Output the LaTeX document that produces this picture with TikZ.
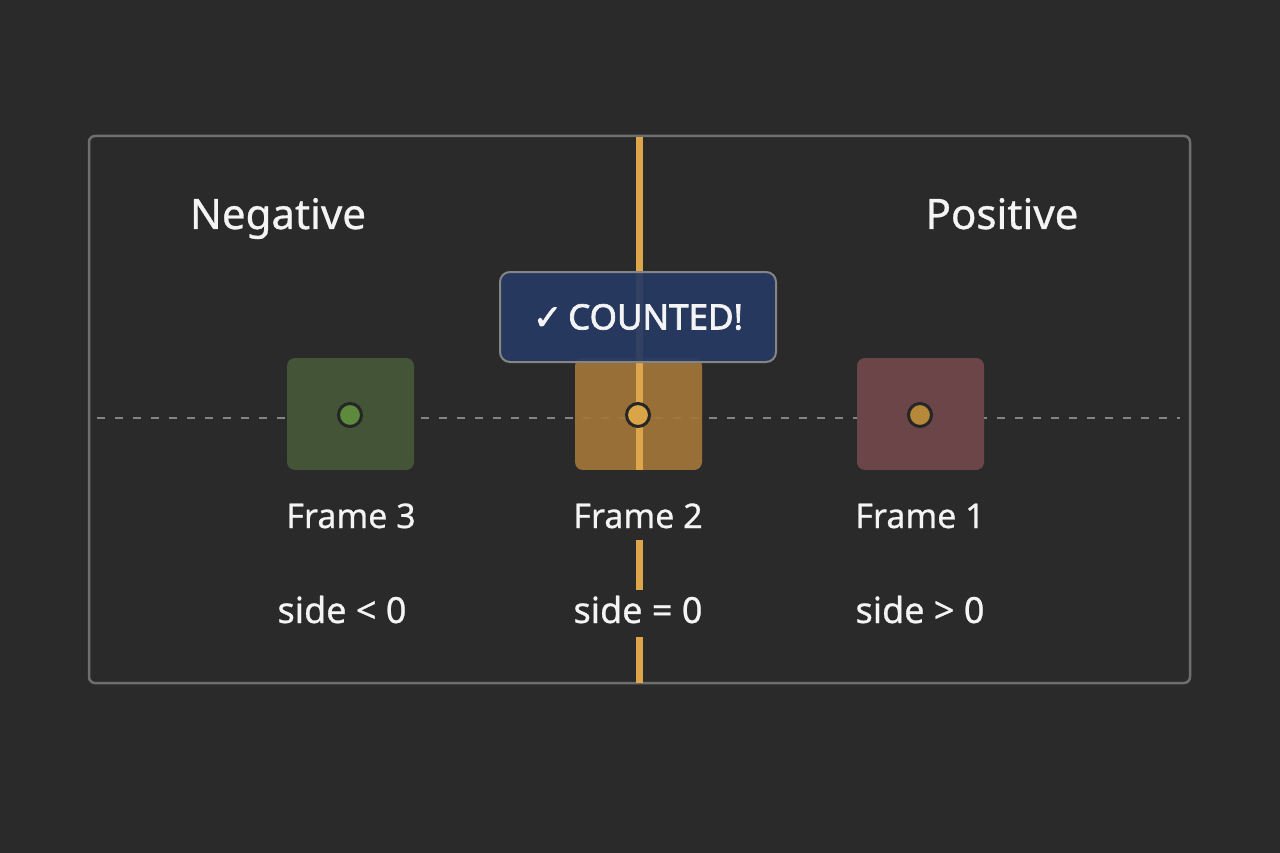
\documentclass[tikz,border=0pt]{standalone}
\usepackage{fontspec}
\setmainfont[FakeBold=0.7]{Noto Sans}
\newfontfamily\badgefont[FakeBold=2]{Noto Sans}
\newfontfamily\symfont[FakeBold=2]{DejaVu Sans}
\definecolor{bgc}{HTML}{2A2A2A}
\definecolor{framec}{HTML}{6E6E6E}
\definecolor{dashc}{HTML}{858585}
\definecolor{linec}{HTML}{DDA64A}
\definecolor{greenbox}{HTML}{435536}
\definecolor{greendot}{HTML}{5E8A3E}
\definecolor{yelbox}{HTML}{A47738}
\definecolor{yeldot}{HTML}{D9A548}
\definecolor{redbox}{HTML}{6B4548}
\definecolor{reddot}{HTML}{B5883A}
\definecolor{bluebox}{HTML}{263A63}
\definecolor{txtc}{HTML}{F4F4F4}
\tikzset{
  framebox/.style={draw=none, minimum width=127pt, minimum height=112pt, rounded corners=8pt, inner sep=0pt},
  dot/.style={circle, draw=black!85, line width=3pt, minimum size=23pt, inner sep=0pt},
  lbl/.style={text=txtc, inner sep=0pt, anchor=base},
  head/.style={text=txtc, font=\fontsize{42}{50}\selectfont, inner sep=0pt, anchor=base},
  framelbl/.style={lbl, font=\fontsize{34}{40}\selectfont, fill=bgc, text height=58pt, text depth=12pt, inner xsep=4pt},
  sidelbl/.style={lbl, font=\fontsize{36}{42}\selectfont, fill=bgc, text height=33pt, text depth=14pt, inner xsep=4pt},
}
\begin{document}
\begin{tikzpicture}[x=1pt,y=-1pt]
\fill[bgc] (0,0) rectangle (1280,853);
\useasboundingbox (0,0) rectangle (1280,853);
% outer frame
\draw[framec, line width=2.5pt, rounded corners=6pt] (89,136) rectangle (1190,683);
% dashed axis
\coordinate (dl) at (97,418);
\coordinate (dr) at (1180,418);
\draw[dashc, line width=2.5pt, dash pattern=on 8pt off 10pt] (dl) -- (dr);
% frame boxes
\node[framebox, fill=greenbox] (b3) at (350.5,414) {};
\node[framebox, fill=redbox] (b1) at (920.5,414) {};
\node[framebox, fill=yelbox, fill opacity=0.9] (b2) at (638.5,414) {};
% vertical line
\coordinate (vt) at (639,137);
\coordinate (vb) at (639,683);
\draw[linec, line width=7pt] (vt) -- (vb);
% dots
\node[dot, fill=greendot] (d3) at (350,415) {};
\node[dot, fill=yeldot] (d2) at (638,415) {};
\node[dot, fill=reddot] (d1) at (920,415) {};
% counted badge
\node[draw=dashc, line width=2pt, fill=bluebox, fill opacity=0.93, text opacity=1, rounded corners=10pt,
      minimum width=276pt, minimum height=90pt, inner sep=0pt, text=txtc,
      font=\badgefont\fontsize{35}{40}\selectfont] (badge) at (638,317) {{\symfont\char"2713}\,COUNTED!};
% headings
\node[head] (neg) at (278,229) {Negative};
\node[head] (pos) at (1002,229) {Positive};
% frame labels
\node[framelbl] (f3) at (351,528) {Frame 3};
\node[framelbl] (f2) at (638,528) {Frame 2};
\node[framelbl] (f1) at (920,528) {Frame 1};
% side labels
\node[sidelbl] (s3) at (342,623) {side < 0};
\node[sidelbl] (s2) at (638,623) {side = 0};
\node[sidelbl] (s1) at (920,623) {side > 0};
\end{tikzpicture}
\end{document}
